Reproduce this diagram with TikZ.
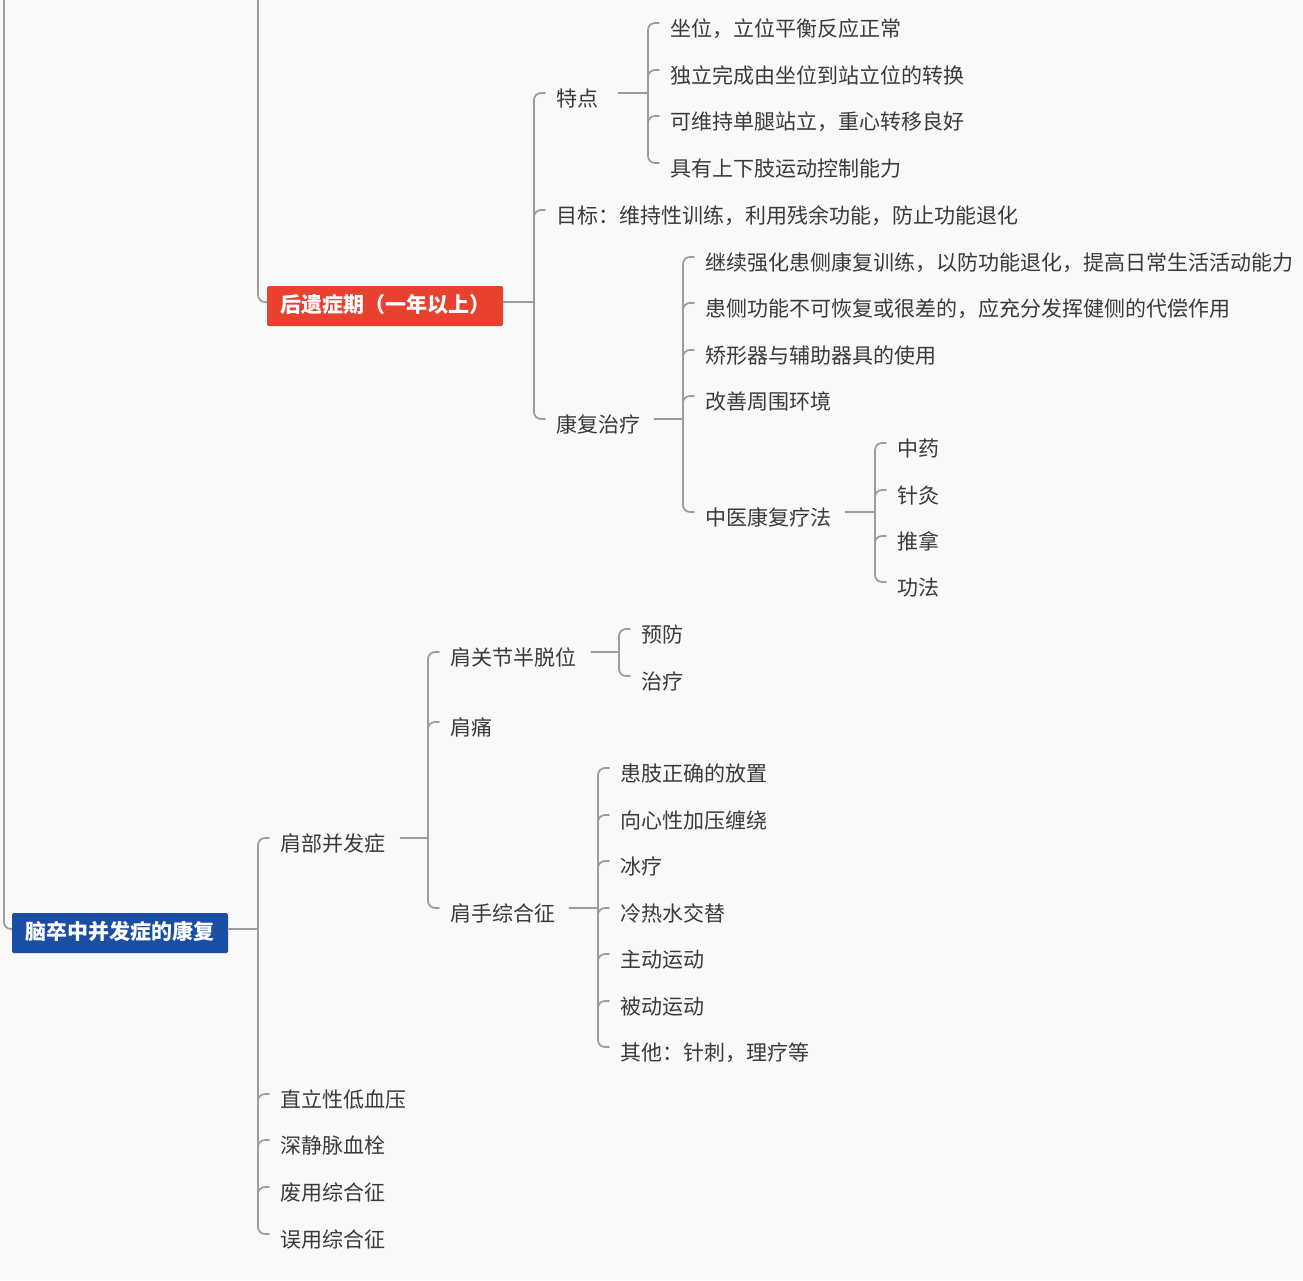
\documentclass[tikz,border=0pt]{standalone}
\usepackage{fontspec}
\setmainfont{Noto Sans CJK SC}
\usetikzlibrary{calc}
\definecolor{bg}{HTML}{F9F9F9}
\definecolor{txt}{HTML}{3A3A3A}
\definecolor{ln}{HTML}{9C9C9C}
\definecolor{redn}{HTML}{E8412F}
\definecolor{bluen}{HTML}{1A4EA2}
\newcommand\mmspine[2]{%
  \draw[conn, rounded corners=7pt] ($(#1.west)+(-11,-7)$) -- ($(#1.west)+(-22,-7)$) -- ($(#2.west)+(-22,-7)$) -- ($(#2.west)+(-11,-7)$);}
\newcommand\mmtick[1]{%
  \draw[conn] ($(#1.west)+(-22,0)$) to[out=90,in=180] ($(#1.west)+(-15,-7)$) -- ($(#1.west)+(-11,-7)$);}
\newcommand\mmpar[3]{%
  \draw[conn] ($(#1.east)+(#3,-7)$) -- ($(#1.east -| #2.west)+(-22,-7)$);}
\begin{document}
\begin{tikzpicture}[x=1pt,y=-1pt,
  lbl/.style={anchor=west, inner sep=0pt, text=txt, font=\fontsize{21}{25}\selectfont, text height=1.36em, text depth=0.05em},
  topnode/.style={inner sep=0pt, text=white, font=\fontsize{21}{25}\selectfont\bfseries, text height=1.36em, text depth=0.05em, minimum height=40pt, rounded corners=1.5pt},
  conn/.style={draw=ln, line width=1.7pt, line cap=round}]
\fill[bg] (0,0) rectangle (1303,1280);
\useasboundingbox (0,0) rectangle (1303,1280);

% top-level nodes
\node[topnode, fill=redn, minimum width=236pt] (red) at (385,306) {后遗症期（一年以上）};
\node[topnode, fill=bluen, minimum width=216pt] (blue) at (120,933) {脑卒中并发症的康复};

% red branch
\node[lbl] (tedian) at (556,100) {特点};
\node[lbl] (mubiao) at (556,217) {目标：维持性训练，利用残余功能，防止功能退化};
\node[lbl] (kangfu) at (556,426) {康复治疗};
\node[lbl] (td1) at (670,30) {坐位，立位平衡反应正常};
\node[lbl] (td2) at (670,77) {独立完成由坐位到站立位的转换};
\node[lbl] (td3) at (670,123) {可维持单腿站立，重心转移良好};
\node[lbl] (td4) at (670,170) {具有上下肢运动控制能力};
\node[lbl] (kf1) at (705,264) {继续强化患侧康复训练，以防功能退化，提高日常生活活动能力};
\node[lbl] (kf2) at (705,310) {患侧功能不可恢复或很差的，应充分发挥健侧的代偿作用};
\node[lbl] (kf3) at (705,357) {矫形器与辅助器具的使用};
\node[lbl] (kf4) at (705,403) {改善周围环境};
\node[lbl] (kf5) at (705,519) {中医康复疗法};
\node[lbl] (zy1) at (897,450) {中药};
\node[lbl] (zy2) at (897,497) {针灸};
\node[lbl] (zy3) at (897,543) {推拿};
\node[lbl] (zy4) at (897,589) {功法};

% blue branch
\node[lbl] (jb) at (280,845) {肩部并发症};
\node[lbl] (b2) at (280,1101) {直立性低血压};
\node[lbl] (b3) at (280,1147) {深静脉血栓};
\node[lbl] (b4) at (280,1194) {废用综合征};
\node[lbl] (b5) at (280,1241) {误用综合征};
\node[lbl] (jg) at (450,659) {肩关节半脱位};
\node[lbl] (jt) at (450,729) {肩痛};
\node[lbl] (js) at (450,915) {肩手综合征};
\node[lbl] (yf) at (641,636) {预防};
\node[lbl] (zl) at (641,683) {治疗};
\node[lbl] (ss1) at (620,775) {患肢正确的放置};
\node[lbl] (ss2) at (620,822) {向心性加压缠绕};
\node[lbl] (ss3) at (620,868) {冰疗};
\node[lbl] (ss4) at (620,915) {冷热水交替};
\node[lbl] (ss5) at (620,961) {主动运动};
\node[lbl] (ss6) at (620,1008) {被动运动};
\node[lbl] (ss7) at (620,1054) {其他：针刺，理疗等};

% incoming lines from off-picture parent
\coordinate (t1) at (4,0);
\coordinate (t2) at (258,0);
\draw[conn, rounded corners=7pt, line cap=butt] (t1) |- ($(blue.west)+(0,-4)$);
\draw[conn, rounded corners=7pt, line cap=butt] (t2) |- ($(red.west)+(0,-4)$);

% red -> children
\draw[conn] ($(red.east)+(0,-4)$) -- ($(red.east -| tedian.west)+(-22,-4)$);
\mmspine{tedian}{kangfu}
\mmtick{mubiao}
% tedian
\mmpar{tedian}{td1}{20}
\mmspine{td1}{td4}
\mmtick{td2}\mmtick{td3}
% kangfu
\mmpar{kangfu}{kf1}{14}
\mmspine{kf1}{kf5}
\mmtick{kf2}\mmtick{kf3}\mmtick{kf4}
% zhongyi
\mmpar{kf5}{zy1}{14}
\mmspine{zy1}{zy4}
\mmtick{zy2}\mmtick{zy3}

% blue -> children
\draw[conn] ($(blue.east)+(0,-4)$) -- ($(blue.east -| jb.west)+(-22,-4)$);
\mmspine{jb}{b5}
\mmtick{b2}\mmtick{b3}\mmtick{b4}
% jianbu
\mmpar{jb}{jg}{15}
\mmspine{jg}{js}
\mmtick{jt}
% bantuowei
\mmpar{jg}{yf}{15}
\mmspine{yf}{zl}
% jianshou
\mmpar{js}{ss1}{14}
\mmspine{ss1}{ss7}
\mmtick{ss2}\mmtick{ss3}\mmtick{ss4}\mmtick{ss5}\mmtick{ss6}
\end{tikzpicture}
\end{document}
